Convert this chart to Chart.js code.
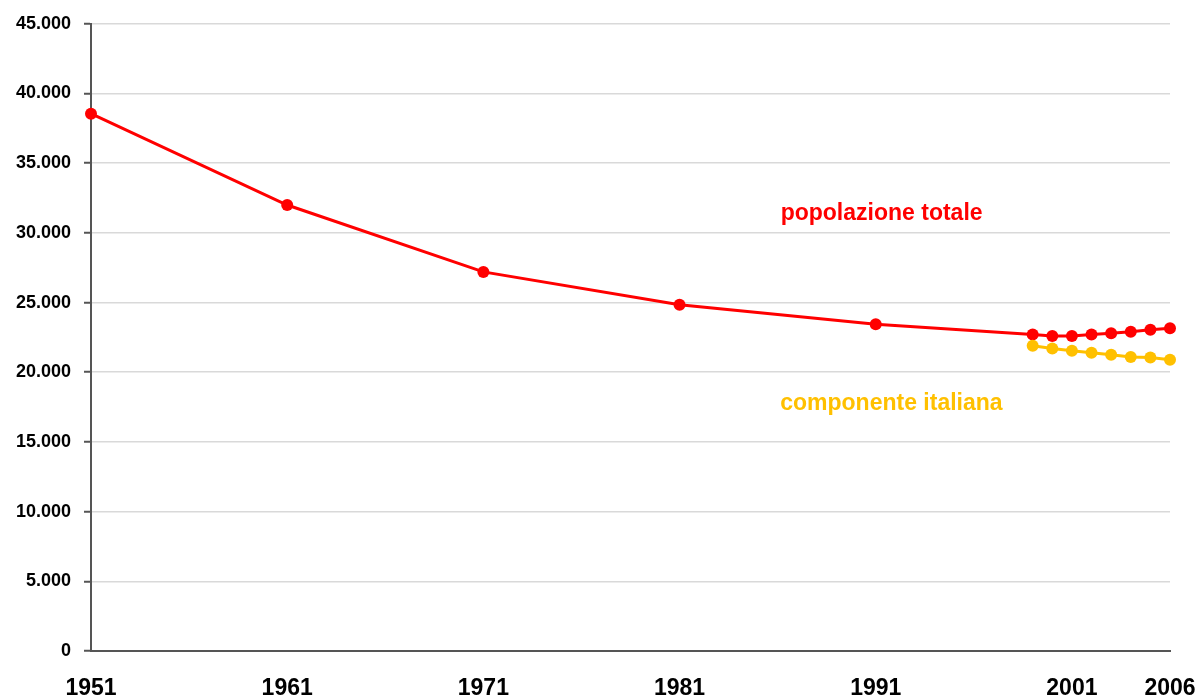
<!DOCTYPE html>
<html lang="en">
<head>
    <meta charset="UTF-8">
    <title>Popolazione</title>
    <script src="https://cdn.jsdelivr.net/npm/chart.js"></script>
    <style>
        html, body {
            margin: 0;
            padding: 0;
            background: #fff;
        }

        #wrap {
            width: 1200px;
            height: 698px;
        }
    </style>
</head>
<body>
    <div id="wrap">
        <canvas id="popChart"></canvas>
    </div>

    <script>
        // data
        const totalYears = [1951, 1961, 1971, 1981, 1991, 1999, 2000, 2001, 2002, 2003, 2004, 2005, 2006];
        const totalValues = [38550, 32000, 27200, 24850, 23450, 22700, 22600, 22600, 22700, 22800, 22900, 23050, 23150];
        const italianYears = [1999, 2000, 2001, 2002, 2003, 2004, 2005, 2006];
        const italianValues = [21900, 21700, 21550, 21400, 21250, 21100, 21050, 20900];
        const xTickYears = [1951, 1961, 1971, 1981, 1991, 2001, 2006];
        const seriesLabels = ['popolazione totale', 'componente italiana'];

        const RED = '#ff0000';
        const GOLD = '#ffc000';

        function toPoints(xs, ys) {
            return xs.map((x, i) => ({ x: x, y: ys[i] }));
        }

        const labelsPlugin = {
            id: 'seriesLabels',
            afterDatasetsDraw(chart) {
                const { ctx, scales } = chart;
                ctx.save();
                ctx.font = 'bold 23px "Liberation Sans", Arial, sans-serif';
                ctx.textAlign = 'center';
                ctx.textBaseline = 'middle';
                ctx.fillStyle = RED;
                ctx.fillText(seriesLabels[0], scales.x.getPixelForValue(1991.3), scales.y.getPixelForValue(31400));
                ctx.fillStyle = GOLD;
                ctx.fillText(seriesLabels[1], scales.x.getPixelForValue(1991.8), scales.y.getPixelForValue(17780));
                ctx.restore();
            }
        };

        const ctx = document.getElementById('popChart').getContext('2d');
        const popChart = new Chart(ctx, {
            type: 'line',
            data: {
                datasets: [
                    {
                        label: seriesLabels[1],
                        data: toPoints(italianYears, italianValues),
                        borderColor: GOLD,
                        backgroundColor: GOLD,
                        borderWidth: 3,
                        pointRadius: 6,
                        pointBorderWidth: 0,
                        tension: 0,
                        clip: false
                    },
                    {
                        label: seriesLabels[0],
                        data: toPoints(totalYears, totalValues),
                        borderColor: RED,
                        backgroundColor: RED,
                        borderWidth: 3,
                        pointRadius: 6,
                        pointBorderWidth: 0,
                        tension: 0,
                        clip: false
                    }
                ]
            },
            options: {
                responsive: true,
                maintainAspectRatio: false,
                animation: false,
                layout: {
                    padding: { top: 14, right: 30, left: 0, bottom: 0 }
                },
                plugins: {
                    legend: { display: false },
                    tooltip: { enabled: false }
                },
                scales: {
                    x: {
                        type: 'linear',
                        min: 1951,
                        max: 2006,
                        afterBuildTicks: scale => {
                            scale.ticks = xTickYears.map(v => ({ value: v }));
                        },
                        afterFit: scale => {
                            scale.height = 47;
                            scale.paddingLeft = 0;
                            scale.paddingRight = 0;
                        },
                        grid: { display: false, drawTicks: false },
                        border: { display: true, color: '#555', width: 2 },
                        ticks: {
                            autoSkip: false,
                            maxRotation: 0,
                            padding: 24,
                            color: '#000',
                            font: { family: '"Liberation Sans", Arial, sans-serif', size: 23, weight: 'bold' },
                            callback: v => String(v)
                        }
                    },
                    y: {
                        min: 0,
                        max: 45000,
                        afterFit: scale => {
                            scale.width = 91;
                        },
                        grid: {
                            color: '#d9d9d9',
                            lineWidth: 1.5,
                            drawTicks: true,
                            tickLength: 7,
                            tickColor: '#555',
                            tickWidth: 2
                        },
                        border: { display: true, color: '#555', width: 2 },
                        ticks: {
                            stepSize: 5000,
                            padding: 13,
                            color: '#000',
                            font: { family: '"Liberation Sans", Arial, sans-serif', size: 18, weight: 'bold' },
                            callback: v => v === 0 ? '0' : v.toLocaleString('it-IT')
                        }
                    }
                }
            },
            plugins: [labelsPlugin]
        });
    </script>
</body>
</html>
